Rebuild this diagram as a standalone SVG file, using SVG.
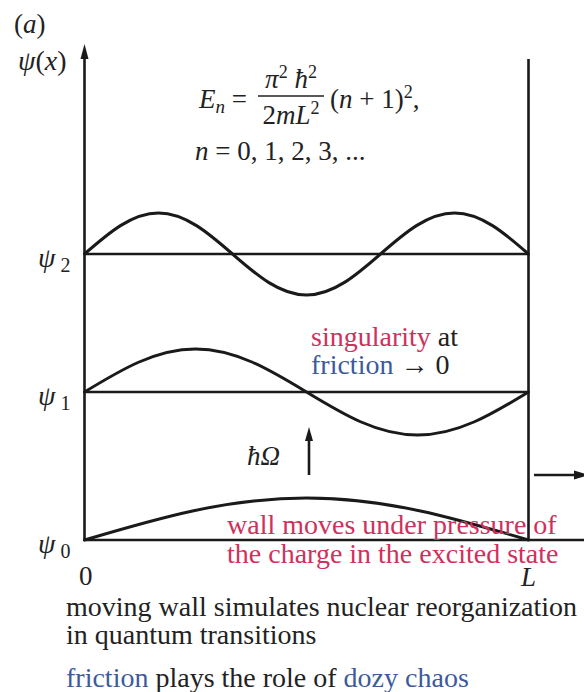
<svg xmlns="http://www.w3.org/2000/svg" width="584" height="692" viewBox="0 0 584 692">
<defs>
<style>
.t{font-family:"Liberation Serif","Times New Roman",serif;fill:#222;}
.i{font-style:italic;}
.red{fill:#d0305c;}
.blue{fill:#3d5a9c;}
.ln{stroke:#1a1a1a;stroke-width:2.6;fill:none;}
.wv{stroke:#1a1a1a;stroke-width:3;fill:none;stroke-linecap:round;}
.ah{fill:#1a1a1a;}
</style>
</defs>
<rect width="584" height="692" fill="#fff"/>
<g id="axes">
<line class="ln" x1="84.5" y1="541" x2="84.5" y2="56"/>
<polygon class="ah" points="84.5,44 80.5,59 88.5,59"/>
<line class="ln" x1="528.5" y1="59" x2="528.5" y2="541"/>
<line class="ln" x1="84.5" y1="254" x2="528.5" y2="254"/>
<line class="ln" x1="84.5" y1="392" x2="528.5" y2="392"/>
<line class="ln" x1="83.5" y1="540" x2="584" y2="540"/>
</g>
<g id="waves">
<path class="wv" d="M84.5,254 C108.6,233 131.7,213 158.5,213 C185.3,213 208.4,233 232.5,254 C256.6,275 279.7,295 306.5,295 C333.3,295 356.4,275 380.5,254 C404.6,233 427.7,213 454.5,213 C481.3,213 504.4,233 528.5,254"/>
<path class="wv" d="M84.5,392 C120.7,370 155.3,349 195.5,349 C235.7,349 270.3,370 306.5,392 C342.7,414 377.3,435 417.5,435 C457.7,435 492.3,414 528.5,392"/>
<path class="wv" d="M84.5,540 C156.9,518.5 226.2,498 306.5,498 C386.8,498 456.1,518.5 528.5,540"/>
</g>
<g id="connectors">
<line class="ln" x1="309" y1="475" x2="309" y2="438"/>
<polygon class="ah" points="309,427 305,441 313,441"/>
<line class="ln" x1="534" y1="475" x2="576" y2="475"/>
<polygon class="ah" points="574,470.5 589,475 574,479.5"/>
</g>
<g id="labels">
<text class="t" x="14" y="33" font-size="27">(<tspan class="i">a</tspan>)</text>
<text class="t" x="18" y="70" font-size="28"><tspan class="i">ψ</tspan>(<tspan class="i">x</tspan>)</text>
<text class="t" x="38" y="267" font-size="28"><tspan class="i">ψ</tspan><tspan font-size="20" dx="5" dy="5">2</tspan></text>
<text class="t" x="38" y="405" font-size="28"><tspan class="i">ψ</tspan><tspan font-size="20" dx="5" dy="5">1</tspan></text>
<text class="t" x="38" y="553" font-size="28"><tspan class="i">ψ</tspan><tspan font-size="20" dx="5" dy="5">0</tspan></text>
<text class="t" x="79" y="585" font-size="27">0</text>
<text class="t i" x="521" y="586" font-size="27">L</text>
<text class="t" x="280" y="465" font-size="27" text-anchor="end"><tspan class="i">ħΩ</tspan></text>
</g>
<g id="formula">
<text class="t" x="199" y="108" font-size="27"><tspan class="i">E</tspan><tspan class="i" font-size="19" dy="5">n</tspan><tspan dy="-5"> =</tspan></text>
<text class="t" x="291" y="88" font-size="27" text-anchor="middle"><tspan class="i">π</tspan><tspan font-size="18" dy="-10">2</tspan><tspan class="i" dy="10"> ħ</tspan><tspan font-size="18" dy="-10">2</tspan></text>
<line x1="258" y1="96" x2="324" y2="96" stroke="#222" stroke-width="1.5"/>
<text class="t" x="291" y="124" font-size="27" text-anchor="middle">2<tspan class="i">mL</tspan><tspan font-size="18" dy="-10">2</tspan></text>
<text class="t" x="330" y="108" font-size="27">(<tspan class="i">n</tspan> + 1)<tspan font-size="18" dy="-10">2</tspan><tspan dy="10">,</tspan></text>
<text class="t" x="195" y="160" font-size="27"><tspan class="i">n</tspan> = 0, 1, 2, 3, ...</text>
</g>
<g id="notes">
<text class="t" x="311" y="346" font-size="28"><tspan class="red">singularity</tspan> at</text>
<text class="t" x="311" y="374" font-size="28"><tspan class="blue">friction</tspan> → 0</text>
<text class="t red" x="227" y="534" font-size="28">wall moves under pressure of</text>
<text class="t red" x="227" y="563" font-size="28">the charge in the excited state</text>
<text class="t" x="66" y="616" font-size="28">moving wall simulates nuclear reorganization</text>
<text class="t" x="66" y="644" font-size="28">in quantum transitions</text>
<text class="t" x="66" y="687" font-size="28"><tspan class="blue">friction</tspan> plays the role of <tspan class="blue">dozy chaos</tspan></text>
</g>
</svg>
